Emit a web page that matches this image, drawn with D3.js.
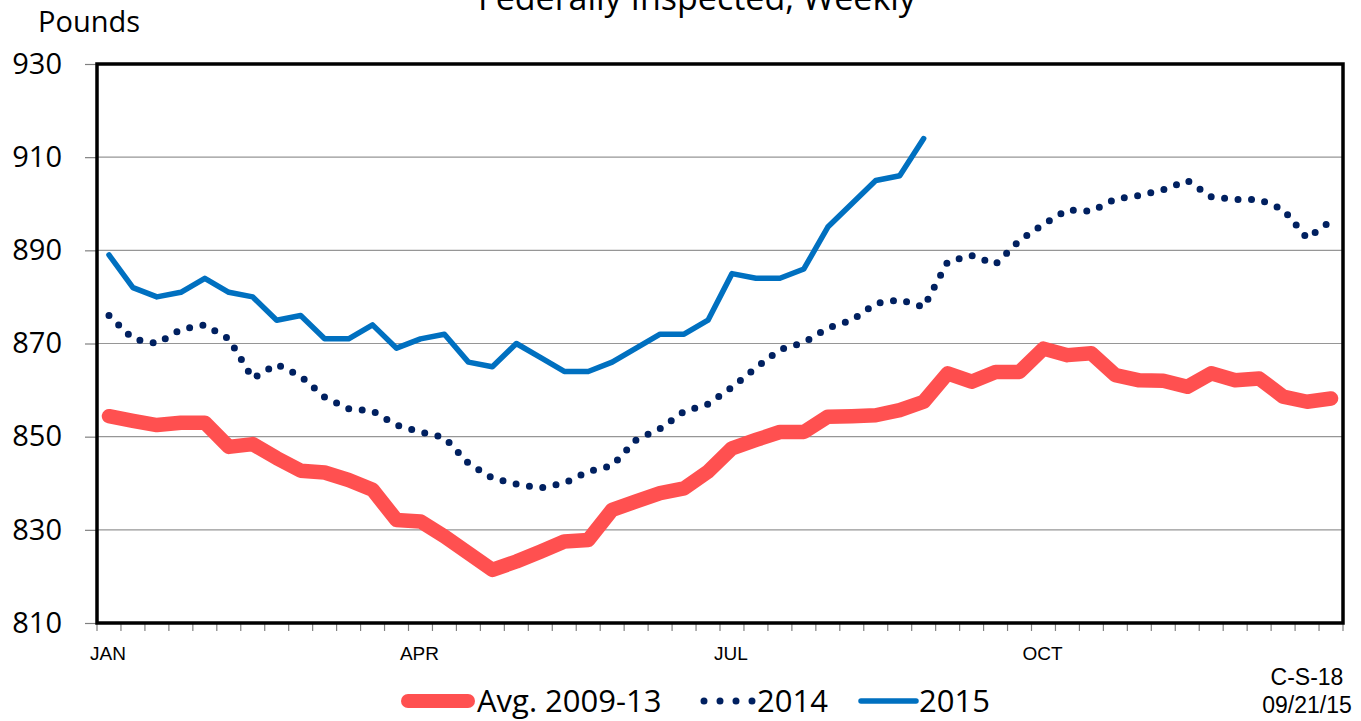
<!DOCTYPE html>
<html>
	<head>
		<meta charset="utf-8">
		<style type="text/css">
			body { margin: 0; background: #fff; overflow: hidden; }
			text { font-family: "Open Sans", sans-serif; fill: #000; }
			.small { font-family: "Liberation Sans", Arial, sans-serif; }
		</style>
		<title>Weekly weights</title>
	</head>
	<body>
		<script src="https://cdn.jsdelivr.net/npm/d3@7"></script>
		<script>

/* data */

var monthNames = ["JAN", "APR", "JUL", "OCT"];
var monthWeeks = [0, 13, 26, 39];
var yTicks = [810, 830, 850, 870, 890, 910, 930];

var avg0913 = [854.4, 853.4, 852.5, 853.0, 853.0, 847.8, 848.4, 845.4, 842.7, 842.3,
	840.7, 838.6, 832.1, 831.8, 828.6, 825.0, 821.4, 823.2, 825.3, 827.5,
	827.8, 834.3, 836.1, 837.9, 838.9, 842.5, 847.5, 849.3, 851.0, 851.0,
	854.3, 854.4, 854.6, 855.7, 857.5, 863.6, 861.8, 863.9, 863.9, 868.9,
	867.5, 867.9, 863.2, 862.1, 862.0, 860.7, 863.6, 862.1, 862.5, 858.6,
	857.5, 858.2];

var y2014 = [876, 871, 870, 873, 874, 871, 862.5, 865.5, 863, 858.5,
	856, 855.5, 852.5, 851, 849.8, 844.3, 841.1, 839.8, 839, 840,
	842.5, 843.8, 849.3, 851.7, 855.4, 857, 860.6, 864.8, 868.7, 870.2,
	873.3, 875, 878.6, 879.4, 877.8, 887.5, 888.9, 887, 892.1, 895.6,
	898.7, 898.4, 901, 901.8, 903, 905, 901.5, 900.9, 900.9, 898.8,
	892.6, 896.3];

var y2015 = [889, 882, 880, 881, 884, 881, 880, 875, 876, 871,
	871, 874, 869, 871, 872, 866, 865, 870, 867, 864,
	864, 866, 869, 872, 872, 875, 885, 884, 884, 886,
	895, 900, 905, 906, 914];

var weeks = d3.range(52);

/* graph parameters */

var totalWidth = 1361;
var totalHeight = 721;
var margin = {top: 64, left: 97, right: 18, bottom: 98};
var width = totalWidth - margin.left - margin.right;
var height = totalHeight - margin.top - margin.bottom;

var red = "#ff5050", navy = "#002060", blue = "#0070c0";

var scaleX = d3.scaleBand().domain(weeks).range([0, width]);
var scaleY = d3.scaleLinear().domain([810, 930]).range([height, 0]);
var cx = function(i) { return scaleX(i) + scaleX.bandwidth() / 2; };

var box = d3.select("body").append("svg")
	.attr("width", totalWidth)
	.attr("height", totalHeight);

/* title (mostly cut off at the top) */

box.append("text")
	.attr("x", 697)
	.attr("y", 10)
	.attr("text-anchor", "middle")
	.style("font-size", "34px")
	.text("Federally Inspected, Weekly");

box.append("text")
	.attr("x", 38)
	.attr("y", 32)
	.style("font-size", "29px")
	.text("Pounds");

var chart = box.append("g")
	.attr("transform", "translate(" + margin.left + "," + margin.top + ")");

/* grid lines */

chart.selectAll(".grid")
	.data(yTicks.slice(1, -1))
	.enter().append("line")
	.attr("x1", 0).attr("x2", width)
	.attr("y1", function(d) { return scaleY(d); })
	.attr("y2", function(d) { return scaleY(d); })
	.style("stroke", "#969696")
	.style("stroke-width", 1.2);

// Y axis

var yAxis = d3.axisLeft(scaleY).tickValues(yTicks).tickSize(12).tickPadding(22);
var gy = chart.append("g").call(yAxis);
gy.select(".domain").remove();
gy.selectAll(".tick line").style("stroke", "#808080").style("stroke-width", 1.2);
gy.selectAll(".tick text")
	.attr("x", -35)
	.style("font-family", "'Open Sans', sans-serif")
	.style("font-size", "29px")
	.style("fill", "#000");

// X axis: weekly ticks

var gx = chart.append("g").attr("transform", "translate(0," + height + ")");
gx.selectAll("line")
	.data(d3.range(53))
	.enter().append("line")
	.attr("x1", function(d) { return d * scaleX.step(); })
	.attr("x2", function(d) { return d * scaleX.step(); })
	.attr("y1", 0).attr("y2", 8)
	.style("stroke", "#808080")
	.style("stroke-width", 1.2);

gx.selectAll("text")
	.data(monthWeeks)
	.enter().append("text")
	.attr("class", "small")
	.attr("x", function(d) { return cx(d) - 1; })
	.attr("y", 37)
	.attr("text-anchor", "middle")
	.style("font-size", "19px")
	.text(function(d, i) { return monthNames[i]; });

/* lines */

var line = d3.line()
	.x(function(d, i) { return cx(i); })
	.y(function(d) { return scaleY(d); });

chart.append("path")
	.attr("d", line(avg0913))
	.style("fill", "none")
	.style("stroke", red)
	.style("stroke-width", 14.5)
	.style("stroke-linejoin", "round")
	.style("stroke-linecap", "round");

chart.append("path")
	.attr("d", line(y2014))
	.style("fill", "none")
	.style("stroke", navy)
	.style("stroke-width", 7)
	.style("stroke-dasharray", "0 13.5")
	.style("stroke-linecap", "round");

chart.append("path")
	.attr("d", line(y2015))
	.style("fill", "none")
	.style("stroke", blue)
	.style("stroke-width", 5.5)
	.style("stroke-linejoin", "round")
	.style("stroke-linecap", "round");

/* plot border */

chart.append("rect")
	.attr("x", 0).attr("y", 0)
	.attr("width", width).attr("height", height)
	.style("fill", "none")
	.style("stroke", "#000")
	.style("stroke-width", 3.5);

/* legend */

var legendY = 701;
var legendItems = [
	{name: "Avg. 2009-13", color: red, w: 14, dash: null, x1: 408, x2: 468, tx: 477},
	{name: "2014", color: navy, w: 7, dash: "0 16", x1: 704, x2: 752.5, tx: 757},
	{name: "2015", color: blue, w: 5.5, dash: null, x1: 861, x2: 916, tx: 919}
];

var legend = box.selectAll(".legend")
	.data(legendItems)
	.enter().append("g")
	.attr("class", "legend");

legend.append("line")
	.attr("x1", function(d) { return d.x1; })
	.attr("x2", function(d) { return d.x2; })
	.attr("y1", legendY).attr("y2", legendY)
	.style("stroke", function(d) { return d.color; })
	.style("stroke-width", function(d) { return d.w; })
	.style("stroke-dasharray", function(d) { return d.dash; })
	.style("stroke-linecap", "round");

legend.append("text")
	.attr("x", function(d) { return d.tx; })
	.attr("y", legendY + 11)
	.style("font-size", "31px")
	.text(function(d) { return d.name; });

/* source note */

box.append("text")
	.attr("class", "small")
	.attr("x", 1307).attr("y", 685)
	.attr("text-anchor", "middle")
	.style("font-size", "23px")
	.text("C-S-18");

box.append("text")
	.attr("class", "small")
	.attr("x", 1307).attr("y", 713)
	.attr("text-anchor", "middle")
	.style("font-size", "23px")
	.text("09/21/15");

		</script>
	</body>
</html>
